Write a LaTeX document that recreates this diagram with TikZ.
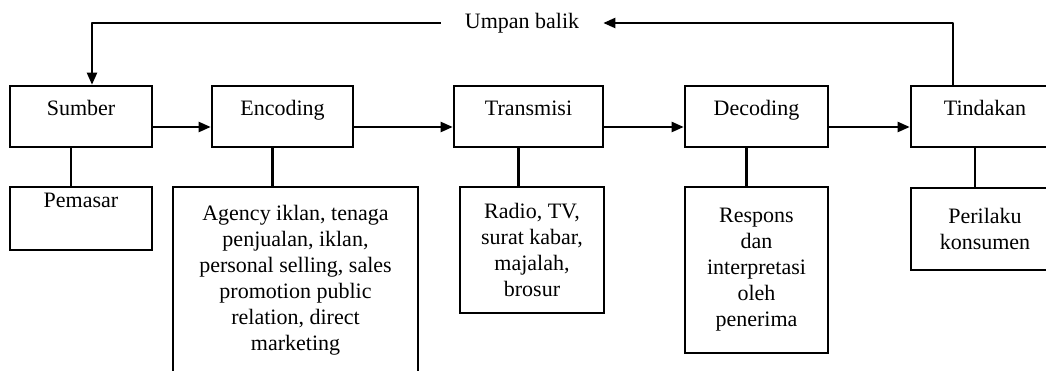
\documentclass[tikz,border=0pt]{standalone}
\usepackage{fontspec}
\setmainfont{Liberation Serif}
\usepackage{tikz}
\usetikzlibrary{arrows.meta}

\begin{document}
\begin{tikzpicture}[x=1pt,y=-1pt,
    tulisan/.style={font=\fontsize{22}{26}\selectfont},
    box/.style={tulisan,draw,line width=2.6pt,inner xsep=0pt,inner ysep=0pt,align=center},
    head/.style={box,text height=30pt,text depth=31pt},
    link/.style={line width=2.2pt,line join=round},
    arrow/.style={link,-{Triangle[length=12pt,width=10pt]}}]
    \useasboundingbox (0,0) rectangle (1046,371);

    % 上排
    \node[head,minimum width=142pt] (sumber) at (81,116.5) {Sumber};
    \node[head,minimum width=141pt] (encoding) at (282.5,116.5) {Encoding};
    \node[head,minimum width=149pt] (transmisi) at (528.5,116.5) {Transmisi};
    \node[head,minimum width=143pt] (decoding) at (756.5,116.5) {Decoding};
    \node[head,minimum width=148pt] (tindakan) at (985,116.5) {Tindakan};

    % 下排
    \node[box,text height=21pt,text depth=42pt,minimum width=142pt] (pemasar) at (81,218.5) {Pemasar};
    \node[box,minimum width=245pt,minimum height=186pt] (pelaku) at (295.5,280)
        {Agency iklan, tenaga\\penjualan, iklan,\\personal selling, sales\\promotion public\\relation, direct\\marketing};
    \node[box,minimum width=144pt,minimum height=126pt] (media) at (532,250)
        {Radio, TV,\\surat kabar,\\majalah,\\brosur};
    \node[box,minimum width=143pt,minimum height=166pt] (respons) at (756.5,270)
        {Respons\\dan\\interpretasi\\oleh\\penerima};
    \node[box,minimum width=148pt,minimum height=82pt] (perilaku) at (985,229)
        {Perilaku\\konsumen};

    \node[tulisan,inner xsep=24pt,inner ysep=0pt] (umpan) at (522,23) {Umpan balik};

    \foreach \a/\b in {sumber/encoding,encoding/transmisi,transmisi/decoding,decoding/tindakan}
        \draw[arrow] ([yshift=-10.5pt]\a.east) -- ([yshift=-10.5pt]\b.west);

    \foreach \a/\b in {sumber/pemasar,encoding/pelaku,transmisi/media,decoding/respons,tindakan/perilaku}
        \draw[link] ([xshift=-10pt]\a.south) -- ([xshift=-10pt]\a.south |- \b.north);

    % 反馈
    \draw[arrow] ([xshift=-32pt]tindakan.north) |- (umpan.east);
    \draw[arrow] (umpan.west) -| ([xshift=11pt]sumber.north);
\end{tikzpicture}
\end{document}
